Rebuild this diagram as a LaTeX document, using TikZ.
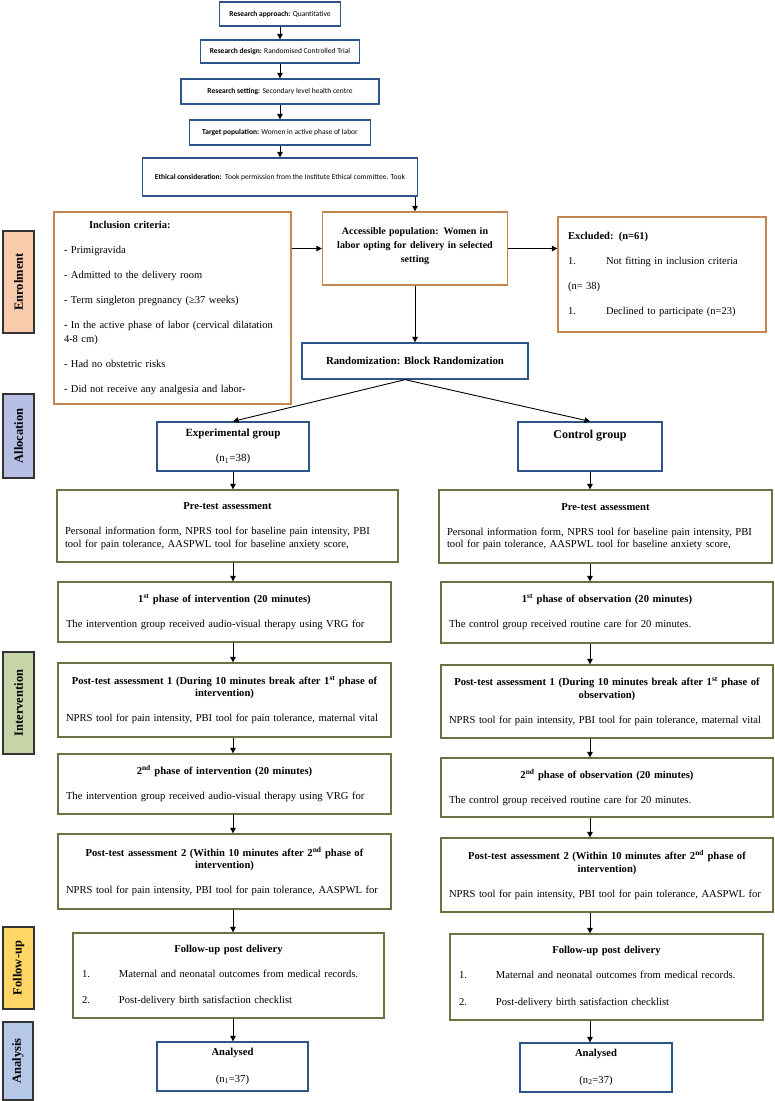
\documentclass[tikz,border=0pt]{standalone}
\usepackage{fontspec}
\setmainfont{Liberation Serif}
\newfontfamily\calibrifont{Carlito}
\usepackage{tikz}
\usetikzlibrary{arrows.meta}

\definecolor{bluebrd}{RGB}{46,84,140}
\definecolor{orangebrd}{RGB}{196,134,78}
\definecolor{olivebrd}{RGB}{112,112,66}
\definecolor{enrolfill}{RGB}{247,203,172}
\definecolor{allocfill}{RGB}{182,190,228}
\definecolor{intervfill}{RGB}{198,212,168}
\definecolor{followfill}{RGB}{255,214,102}
\definecolor{analfill}{RGB}{182,200,232}

\newcommand{\stagehead}[1]{{\centering\textbf{#1}\par}\vspace{12.5pt}}
\newcommand{\itemno}[1]{\makebox[37pt][l]{#1}}

\begin{document}
\begin{tikzpicture}[x=1pt, y=-1pt,
  arr/.style={-{Triangle[length=5.5pt,width=5.5pt]}, line width=0.9pt},
  topbox/.style={draw=bluebrd, line width=1.3pt, align=center, inner sep=0pt, font=\calibrifont\fontsize{7.5}{9}\selectfont},
  bluebox/.style={draw=bluebrd, line width=1.3pt, align=center, inner sep=0pt, font=\fontsize{10.6}{12.5}\selectfont},
  orangebox/.style={draw=orangebrd, line width=1.3pt, inner xsep=10pt, inner ysep=0pt},
  stagebox/.style={draw=olivebrd, line width=1.3pt, align=left, inner xsep=8pt, inner ysep=0pt, font=\fontsize{10.6}{12.5}\selectfont},
  sidelabel/.style={draw=black!80, line width=1.3pt, rotate=90, inner sep=0pt, font=\fontsize{12.5}{14}\selectfont\bfseries}]

\useasboundingbox (0,0) rectangle (775,1101);

% design of the study
\node[topbox, minimum width=121, minimum height=24] (appr) at (280,14) {\textbf{Research approach:} Quantitative};
\node[topbox, minimum width=159, minimum height=23] (design) at (280,51.5) {\textbf{Research design:} Randomised Controlled Trial};
\node[topbox, minimum width=198, minimum height=25] (setting) at (280,91.5) {\textbf{Research setting:} Secondary level health centre};
\node[topbox, minimum width=181, minimum height=25] (target) at (280,132.5) {\textbf{Target population:} Women in active phase of labor};
\node[topbox, minimum width=275, minimum height=38] (ethic) at (280,177) {\textbf{Ethical consideration:}\ \ Took permission from the Institute Ethical committee. Took};
\draw[arr] (appr) -- (design);
\draw[arr] (design) -- (setting);
\draw[arr] (setting) -- (target);
\draw[arr] (target) -- (ethic);

% enrolment
\node[orangebox, align=left, text width=217pt, minimum height=192, font=\fontsize{10.5}{14}\selectfont] (incl) at (172.5,308) {\hspace*{25pt}\textbf{Inclusion criteria:}\\[11pt]
- Primigravida\\[11pt]
- Admitted to the delivery room\\[11pt]
- Term singleton pregnancy (≥37 weeks)\\[11pt]
- In the active phase of labor (cervical dilatation\\
4-8 cm)\\[11pt]
- Had no obstetric risks\\[11pt]
- Did not receive any analgesia and labor-};
\node[orangebox, align=center, text width=165pt, minimum height=73, font=\fontsize{10}{14}\selectfont\bfseries] (access) at (415,248.5) {Accessible population: Women in\\ labor opting for delivery in selected\\ setting\\[-8pt]\mbox{}};
\node[orangebox, align=left, text width=188pt, minimum height=115, font=\fontsize{10.5}{25}\selectfont] (excl) at (662,274.5) {\textbf{Excluded: (n=61)}\\
\makebox[38pt][l]{1.}Not fitting in inclusion criteria\\
(n= 38)\\
\makebox[38pt][l]{1.}Declined to participate (n=23)};
\draw[arr] (ethic.south -| access) -- (access);
\draw[arr] (access.west -| incl.east) -- (access.west);
\draw[arr] (access.east) -- (access.east -| excl.west);
\node[bluebox, minimum width=226, minimum height=36, font=\fontsize{10.8}{12}\selectfont\bfseries] (rand) at (415,361) {Randomization: Block Randomization};
\draw[arr] (access) -- (rand);

% allocation
\node[bluebox, minimum width=152, minimum height=49, font=\fontsize{11}{12}\selectfont] (exp) at (233,446.5) {\textbf{Experimental group}\\[13pt](n\textsubscript{1}=38)};
\node[bluebox, minimum width=144, minimum height=49, font=\fontsize{12}{12}\selectfont] (ctrl) at (590,446.5) {\textbf{Control group}\\[13pt]\mbox{}};
\draw[arr] ([xshift=-10pt]rand.south) -- (exp.north);
\draw[arr] ([xshift=-10pt]rand.south) -- (ctrl.north);

% experimental arm
\node[stagebox, text width=325pt, minimum height=72] (preL) at (227.5,526) {\stagehead{Pre-test assessment}
Personal information form, NPRS tool for baseline pain intensity, PBI\\
tool for pain tolerance, AASPWL tool for baseline anxiety score,};
\node[stagebox, text width=317pt, minimum height=60] (phase1L) at (224.5,612) {\stagehead{1\textsuperscript{st} phase of intervention (20 minutes)}
The intervention group received audio-visual therapy using VRG for};
\node[stagebox, text width=317pt, minimum height=74] (post1L) at (224.5,700) {\stagehead{Post-test assessment 1 (During 10 minutes break after 1\textsuperscript{st} phase of\\ intervention)}
NPRS tool for pain intensity, PBI tool for pain tolerance, maternal vital};
\node[stagebox, text width=317pt, minimum height=60] (phase2L) at (224.5,784) {\stagehead{2\textsuperscript{nd} phase of intervention (20 minutes)}
The intervention group received audio-visual therapy using VRG for};
\node[stagebox, text width=317pt, minimum height=75] (post2L) at (224.5,871.5) {\stagehead{Post-test assessment 2 (Within 10 minutes after 2\textsuperscript{nd} phase of\\ intervention)}
NPRS tool for pain intensity, PBI tool for pain tolerance, AASPWL for};
\node[stagebox, inner xsep=9pt, text width=293pt, minimum height=85] (followL) at (228.5,975.5) {\stagehead{Follow-up post delivery}
\itemno{1.}Maternal and neonatal outcomes from medical records.\\[14pt]
\itemno{2.}Post-delivery birth satisfaction checklist};
\node[bluebox, minimum width=151, minimum height=49] (analL) at (232.5,1066.5) {\textbf{Analysed}\\[14pt](n\textsubscript{1}=37)};
\draw[arr] (exp) -- (exp |- preL.north);
\draw[arr] (preL.south -| exp) -- (phase1L.north -| exp);
\draw[arr] (phase1L.south -| exp) -- (post1L.north -| exp);
\draw[arr] (post1L.south -| exp) -- (phase2L.north -| exp);
\draw[arr] (phase2L.south -| exp) -- (post2L.north -| exp);
\draw[arr] (post2L.south -| exp) -- (followL.north -| exp);
\draw[arr] (followL.south -| exp) -- (analL.north -| exp);

% control arm
\node[stagebox, text width=317pt, minimum height=73] (preR) at (605.5,526.5) {\stagehead{Pre-test assessment}
Personal information form, NPRS tool for baseline pain intensity, PBI\\
tool for pain tolerance, AASPWL tool for baseline anxiety score,};
\node[stagebox, text width=316pt, minimum height=61] (phase1R) at (607,612.5) {\stagehead{1\textsuperscript{st} phase of observation (20 minutes)}
The control group received routine care for 20 minutes.};
\node[stagebox, text width=316pt, minimum height=73] (post1R) at (607,701.5) {\stagehead{Post-test assessment 1 (During 10 minutes break after 1\textsuperscript{st} phase of\\ observation)}
NPRS tool for pain intensity, PBI tool for pain tolerance, maternal vital};
\node[stagebox, text width=316pt, minimum height=59] (phase2R) at (607,787.5) {\stagehead{2\textsuperscript{nd} phase of observation (20 minutes)}
The control group received routine care for 20 minutes.};
\node[stagebox, text width=316pt, minimum height=74] (post2R) at (607,875) {\stagehead{Post-test assessment 2 (Within 10 minutes after 2\textsuperscript{nd} phase of\\ intervention)}
NPRS tool for pain intensity, PBI tool for pain tolerance, AASPWL for};
\node[stagebox, inner xsep=9pt, text width=295pt, minimum height=86] (followR) at (606.5,977) {\stagehead{Follow-up post delivery}
\itemno{1.}Maternal and neonatal outcomes from medical records.\\[14pt]
\itemno{2.}Post-delivery birth satisfaction checklist};
\node[bluebox, minimum width=152, minimum height=49] (analR) at (596,1067.5) {\textbf{Analysed}\\[14pt](n\textsubscript{2}=37)};
\draw[arr] (ctrl) -- (ctrl |- preR.north);
\draw[arr] (preR.south -| ctrl) -- (phase1R.north -| ctrl);
\draw[arr] (phase1R.south -| ctrl) -- (post1R.north -| ctrl);
\draw[arr] (post1R.south -| ctrl) -- (phase2R.north -| ctrl);
\draw[arr] (phase2R.south -| ctrl) -- (post2R.north -| ctrl);
\draw[arr] (post2R.south -| ctrl) -- (followR.north -| ctrl);
\draw[arr] (followR.south -| ctrl) -- (analR.north -| ctrl);

% stage labels
\node[sidelabel, fill=enrolfill, minimum width=102, minimum height=31] (enrol) at (18.5,282) {Enrolment};
\node[sidelabel, fill=allocfill, minimum width=84, minimum height=31] (alloc) at (18.5,436) {Allocation};
\node[sidelabel, fill=intervfill, minimum width=102, minimum height=31] (interv) at (18.5,703) {Intervention};
\node[sidelabel, fill=followfill, minimum width=82, minimum height=31] (follow) at (18.5,968) {Follow-up};
\node[sidelabel, fill=analfill, minimum width=78, minimum height=30] (anal) at (18,1061) {Analysis};
\end{tikzpicture}
\end{document}
